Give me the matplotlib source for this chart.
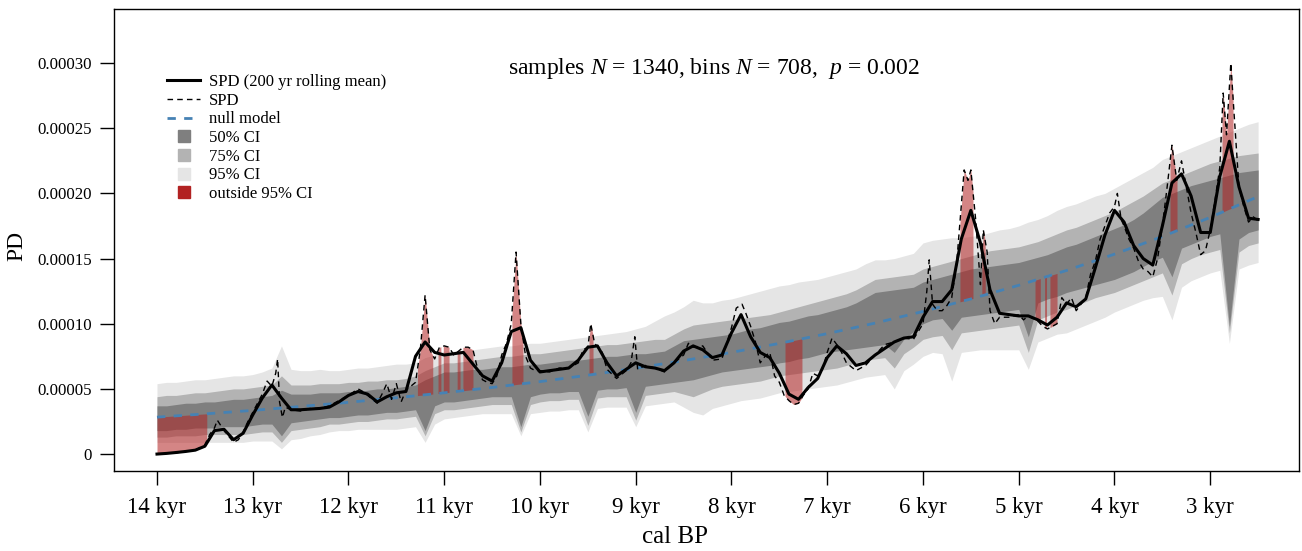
import numpy as np
import matplotlib
matplotlib.use("Agg")
import matplotlib.pyplot as plt
from matplotlib.lines import Line2D

plt.rcParams['font.family'] = ['Liberation Serif', 'DejaVu Serif']
plt.rcParams['mathtext.fontset'] = 'custom'
plt.rcParams['mathtext.rm'] = 'Liberation Serif'
plt.rcParams['mathtext.it'] = 'Liberation Serif:italic'

# all PD values below are in units of 1e-5
scale = 1e-5

# 100 yr grid, 14000 -> 2500 cal BP
grid_years = list(range(14000, 2400, -100))

# 200 yr rolling mean of the SPD
spd_mean = [
    0.0, 0.05, 0.12, 0.2, 0.3, 0.6, 1.8, 1.9, 1.1, 1.6,
    3.0, 4.3, 5.3, 4.3, 3.4, 3.4, 3.45, 3.5, 3.6, 4.0,
    4.5, 4.8, 4.6, 4.0, 4.4, 4.7, 4.8, 7.5, 8.6, 7.8,
    7.6, 7.7, 7.8, 6.9, 6.0, 5.6, 7.0, 9.4, 9.7, 7.2,
    6.3, 6.4, 6.5, 6.6, 7.2, 8.2, 8.3, 7.0, 6.0, 6.5,
    7.0, 6.7, 6.6, 6.4, 7.0, 7.9, 8.3, 8.0, 7.4, 7.6,
    9.3, 10.7, 9.0, 7.8, 7.4, 6.2, 4.6, 4.2, 5.1, 5.8,
    7.4, 8.3, 7.7, 6.8, 7.0, 7.6, 8.1, 8.6, 8.9, 9.0,
    10.5, 11.7, 11.7, 12.6, 16.5, 18.7, 16.2, 12.6, 10.8, 10.7,
    10.6, 10.6, 10.3, 9.9, 10.5, 11.6, 11.3, 11.9, 14.3, 16.8,
    18.7, 17.8, 16.0, 15.0, 14.5, 17.5, 20.8, 21.5, 19.8, 17.0,
    17.0, 21.3, 24.0, 20.5, 18.1, 18.0,
]

# CI envelopes of the null model
ci95_hi = [
    5.4, 5.5, 5.5, 5.6, 5.7, 5.7, 5.8, 5.9, 6.0, 6.0,
    6.1, 6.3, 6.6, 8.3, 6.5, 6.4, 6.4, 6.5, 6.4, 6.4,
    6.5, 6.6, 6.6, 6.7, 6.8, 6.9, 6.9, 7.0, 7.4, 7.6,
    7.9, 7.9, 8.0, 8.0, 8.1, 8.2, 8.3, 8.3, 8.4, 8.5,
    8.5, 8.6, 8.7, 8.8, 8.9, 9.0, 9.1, 9.2, 9.3, 9.4,
    9.6, 9.8, 10.2, 10.6, 10.9, 11.3, 11.8, 11.6, 11.6, 11.8,
    11.9, 12.1, 12.3, 12.5, 12.7, 12.9, 13.0, 13.2, 13.3, 13.4,
    13.6, 13.8, 14.0, 14.2, 14.6, 14.9, 14.9, 15.0, 15.2, 15.4,
    16.2, 16.4, 16.5, 16.6, 16.6, 16.7, 16.8, 17.0, 17.2, 17.3,
    17.5, 17.8, 18.0, 18.3, 18.7, 19.0, 19.2, 19.5, 19.8, 20.0,
    20.4, 20.8, 21.2, 21.6, 22.0, 22.6, 22.9, 23.2, 23.5, 23.8,
    24.1, 24.4, 24.7, 25.0, 25.3, 25.5,
]
ci75_hi = [
    4.4, 4.5, 4.5, 4.6, 4.7, 4.7, 4.8, 4.9, 5.0, 5.0,
    5.1, 5.2, 5.3, 6.0, 5.3, 5.3, 5.3, 5.4, 5.4, 5.4,
    5.5, 5.5, 5.6, 5.6, 5.7, 5.7, 5.8, 6.0, 6.4, 6.7,
    7.0, 7.0, 7.1, 7.2, 7.3, 7.4, 7.5, 7.5, 7.6, 7.7,
    7.7, 7.8, 7.9, 8.0, 8.1, 8.2, 8.3, 8.4, 8.4, 8.5,
    8.6, 8.7, 8.8, 8.8, 9.2, 9.6, 9.9, 10.0, 10.1, 10.2,
    10.3, 10.4, 10.5, 10.6, 10.7, 10.9, 11.1, 11.3, 11.5, 11.7,
    11.9, 12.1, 12.3, 12.6, 13.0, 13.4, 13.5, 13.6, 13.7, 13.8,
    14.2, 14.4, 14.6, 14.8, 15.0, 15.2, 15.4, 15.6, 15.7, 15.8,
    15.9, 16.1, 16.3, 16.6, 16.9, 17.2, 17.4, 17.7, 18.0, 18.3,
    18.6, 19.0, 19.4, 19.8, 20.3, 20.8, 21.1, 21.4, 21.7, 22.0,
    22.3, 22.5, 22.7, 22.9, 23.0, 23.1,
]
ci50_hi = [
    3.7, 3.7, 3.8, 3.9, 3.9, 4.0, 4.0, 4.1, 4.2, 4.2,
    4.3, 4.4, 4.5, 4.9, 4.6, 4.6, 4.6, 4.7, 4.7, 4.7,
    4.8, 4.8, 4.9, 5.0, 5.0, 5.1, 5.2, 5.3, 5.7, 6.0,
    6.3, 6.3, 6.4, 6.5, 6.5, 6.6, 6.7, 6.7, 6.8, 6.9,
    6.9, 7.0, 7.1, 7.2, 7.2, 7.3, 7.4, 7.5, 7.5, 7.6,
    7.7, 7.7, 7.8, 7.9, 8.3, 8.7, 8.8, 8.9, 9.0, 9.1,
    9.2, 9.4, 9.6, 9.7, 9.9, 10.1, 10.2, 10.4, 10.6, 10.7,
    10.9, 11.1, 11.3, 11.6, 12.0, 12.4, 12.5, 12.6, 12.7, 12.8,
    13.2, 13.4, 13.6, 13.8, 14.0, 14.2, 14.3, 14.4, 14.5, 14.6,
    14.7, 14.9, 15.1, 15.3, 15.6, 15.9, 16.1, 16.4, 16.7, 17.0,
    17.3, 17.6, 18.0, 18.5, 19.1, 19.7, 20.0, 20.3, 20.6, 20.8,
    21.0, 21.2, 21.4, 21.6, 21.7, 21.8,
]
ci50_lo = [
    1.8, 1.8, 1.9, 1.9, 2.0, 2.0, 2.0, 2.1, 2.1, 2.1,
    2.2, 2.3, 2.3, 1.4, 2.4, 2.5, 2.6, 2.7, 2.8, 2.8,
    2.9, 3.0, 3.0, 3.1, 3.2, 3.2, 3.3, 3.4, 1.8, 3.7,
    4.0, 4.0, 4.1, 4.2, 4.3, 4.4, 4.4, 4.4, 2.1, 4.4,
    4.6, 4.7, 4.7, 4.8, 4.8, 2.9, 4.9, 5.0, 5.0, 5.1,
    3.2, 5.2, 5.3, 5.4, 5.5, 5.6, 5.7, 5.9, 6.1, 6.3,
    6.4, 6.5, 6.6, 6.7, 6.8, 7.0, 7.1, 7.3, 7.4, 7.6,
    7.8, 7.9, 8.0, 8.1, 8.2, 8.3, 8.4, 7.8, 8.8, 9.4,
    10.0, 10.3, 10.4, 9.5, 10.5, 10.6, 10.7, 10.8, 10.9, 11.0,
    11.1, 9.0, 11.6, 11.9, 12.1, 12.4, 12.6, 12.8, 13.0, 13.2,
    13.4, 13.7, 14.0, 14.4, 14.8, 15.1, 13.6, 15.8, 16.1, 16.4,
    16.7, 16.9, 9.8, 16.5, 17.0, 17.2,
]
ci75_lo = [
    1.3, 1.3, 1.4, 1.4, 1.4, 1.5, 1.5, 1.5, 1.5, 1.5,
    1.6, 1.7, 1.7, 0.9, 1.8, 1.9, 2.0, 2.1, 2.3, 2.3,
    2.4, 2.5, 2.5, 2.6, 2.7, 2.7, 2.8, 2.9, 1.4, 3.1,
    3.4, 3.4, 3.5, 3.6, 3.7, 3.8, 3.8, 3.8, 1.7, 3.8,
    4.0, 4.1, 4.1, 4.2, 4.2, 2.2, 4.3, 4.4, 4.4, 4.4,
    2.6, 4.5, 4.6, 4.7, 4.8, 4.6, 4.4, 4.7, 5.0, 5.2,
    5.3, 5.4, 5.5, 5.6, 5.8, 6.0, 6.1, 6.2, 6.3, 6.4,
    6.5, 6.6, 6.8, 7.0, 7.2, 7.3, 7.4, 6.6, 7.7, 8.2,
    8.8, 9.0, 9.1, 8.0, 9.3, 9.4, 9.5, 9.6, 9.7, 9.8,
    9.9, 7.8, 10.3, 10.6, 10.9, 11.1, 11.4, 11.7, 12.0, 12.2,
    12.4, 12.7, 13.0, 13.3, 13.6, 13.9, 12.2, 14.6, 15.0, 15.3,
    15.5, 15.7, 9.3, 15.5, 16.0, 16.2,
]
ci95_lo = [
    0.9, 0.9, 0.9, 0.9, 0.9, 0.9, 0.9, 0.9, 0.9, 0.9,
    1.0, 1.0, 1.0, 0.4, 1.1, 1.2, 1.4, 1.5, 1.7, 1.8,
    1.8, 1.9, 1.9, 1.9, 1.9, 1.9, 2.0, 2.1, 0.9, 2.3,
    2.7, 2.8, 2.9, 3.0, 3.1, 3.1, 3.1, 3.1, 1.4, 3.1,
    3.2, 3.3, 3.3, 3.4, 3.4, 1.7, 3.5, 3.6, 3.6, 3.6,
    2.1, 3.7, 3.8, 3.9, 4.0, 3.6, 3.2, 3.0, 3.5, 3.7,
    3.9, 4.1, 4.2, 4.3, 4.5, 4.7, 4.8, 4.9, 5.0, 5.1,
    5.2, 5.3, 5.5, 5.7, 5.9, 6.0, 6.1, 5.0, 6.4, 6.9,
    7.5, 7.8, 7.7, 5.6, 7.8, 7.9, 8.0, 8.0, 8.0, 8.0,
    8.0, 6.5, 8.6, 8.9, 9.2, 9.3, 9.6, 9.9, 10.2, 10.5,
    10.9, 11.2, 11.5, 11.8, 12.0, 12.1, 10.3, 12.8, 13.3, 13.6,
    13.9, 14.1, 8.5, 14.2, 14.5, 14.7,
]

# null model (fitted exponential), read every 500 yr
null_years = list(range(14000, 2400, -500))
null_vals = [2.83, 3.08, 3.35, 3.65, 3.97, 4.32, 4.70, 5.11, 5.56, 6.05,
             6.59, 7.17, 7.80, 8.49, 9.24, 10.05, 10.94, 11.90, 12.95,
             14.09, 15.34, 16.69, 18.16, 19.76]

# raw SPD (irregular spacing to catch the spikes)
spd_years = [
    14000, 13800, 13600, 13500, 13450, 13400, 13370, 13300, 13200, 13150,
    13100, 13050, 13000, 12950, 12900, 12850, 12800, 12760, 12740, 12720,
    12690, 12660, 12600, 12500, 12400, 12300, 12200, 12100, 12000, 11900,
    11850, 11750, 11700, 11650, 11600, 11550, 11500, 11450, 11400, 11300,
    11250, 11200, 11150, 11100, 11050, 11000, 10950, 10900, 10850, 10800,
    10750, 10700, 10650, 10600, 10550, 10500, 10450, 10400, 10350, 10300,
    10250, 10200, 10150, 10100, 10050, 10000, 9900, 9800, 9700, 9600,
    9550, 9500, 9470, 9430, 9350, 9300, 9200, 9100, 9050, 9010,
    8980, 8900, 8800, 8700, 8600, 8500, 8450, 8400, 8300, 8200,
    8100, 8050, 8000, 7950, 7890, 7850, 7800, 7750, 7700, 7650,
    7600, 7550, 7500, 7450, 7400, 7350, 7300, 7250, 7200, 7150,
    7100, 7050, 7000, 6950, 6900, 6850, 6800, 6700, 6600, 6500,
    6400, 6300, 6200, 6100, 6000, 5960, 5935, 5900, 5850, 5800,
    5750, 5700, 5650, 5600, 5570, 5530, 5500, 5450, 5400, 5370,
    5330, 5300, 5250, 5200, 5100, 5000, 4950, 4900, 4800, 4750,
    4700, 4650, 4600, 4550, 4500, 4450, 4400, 4300, 4250, 4200,
    4150, 4100, 4050, 4000, 3970, 3930, 3900, 3850, 3800, 3750,
    3700, 3650, 3600, 3550, 3500, 3450, 3400, 3350, 3300, 3250,
    3200, 3150, 3100, 3050, 3000, 2950, 2900, 2865, 2830, 2785,
    2750, 2700, 2650, 2600, 2550, 2500,
]
spd_vals = [
    0.0, 0.1, 0.3, 0.7, 1.5, 2.0, 2.6, 1.8, 0.9, 1.1,
    1.7, 2.5, 3.2, 3.9, 4.6, 5.6, 5.2, 6.2, 7.3, 4.0,
    2.8, 3.6, 3.4, 3.3, 3.5, 3.5, 3.7, 4.1, 4.5, 5.0,
    4.8, 4.2, 3.9, 4.6, 5.4, 4.2, 5.4, 4.0, 4.9, 5.5,
    8.0, 12.2, 8.0, 7.3, 8.2, 8.3, 8.2, 7.6, 7.9, 8.2,
    8.2, 8.0, 6.5, 5.7, 5.5, 5.4, 6.0, 7.6, 8.5, 10.0,
    15.5, 10.0, 7.5, 6.6, 6.4, 6.4, 6.3, 6.6, 6.6, 7.0,
    8.0, 8.2, 10.0, 8.5, 7.8, 6.5, 5.8, 6.4, 7.0, 9.0,
    6.5, 6.8, 6.6, 6.3, 7.0, 7.6, 8.5, 8.2, 8.3, 7.2,
    7.3, 8.5, 9.7, 11.2, 11.5, 10.8, 9.8, 8.6, 7.0, 7.5,
    7.8, 6.0, 5.5, 4.5, 4.1, 3.8, 3.9, 4.5, 5.0, 6.2,
    6.0, 6.5, 7.8, 8.9, 8.4, 7.8, 7.0, 6.4, 6.8, 7.6,
    8.4, 8.6, 8.9, 8.8, 10.0, 12.5, 14.9, 11.5, 11.0, 11.0,
    11.4, 12.0, 14.5, 19.0, 21.8, 21.0, 21.8, 18.0, 13.0, 17.2,
    15.5, 11.0, 10.0, 10.5, 10.5, 10.7, 10.3, 10.6, 10.2, 9.8,
    9.6, 9.8, 10.0, 12.0, 11.5, 12.0, 11.0, 12.0, 13.8, 14.8,
    16.5, 17.5, 18.5, 19.0, 20.0, 18.0, 17.5, 16.5, 15.8, 14.8,
    14.2, 14.0, 13.6, 15.0, 17.5, 20.5, 23.7, 21.0, 22.5, 20.5,
    18.5, 17.0, 15.3, 15.6, 17.2, 19.5, 22.0, 27.7, 24.5, 30.0,
    26.0, 20.5, 19.0, 17.8, 18.2, 17.9,
]

# periods where the SPD leaves the 95% envelope (start, end in cal BP)
outside_spans = [
    (14000, 13480), (11280, 11120), (11065, 11035), (11010, 10950),
    (10865, 10835), (10805, 10700), (10293, 10178), (9488, 9446),
    (7441, 7264), (5614, 5478), (5385, 5350), (4830, 4775),
    (4730, 4710), (4674, 4600), (3420, 3347), (2877, 2762),
]

title_txt = r"samples $N$ = 1340, bins $N$ = 708,  $p$ = 0.002"
xtick_years = list(range(14000, 2900, -1000))
xtick_labels = [f"{y // 1000} kyr" for y in xtick_years]
ytick_vals = [0, 5, 10, 15, 20, 25, 30]
ytick_labels = ["0", "0.00005", "0.00010", "0.00015", "0.00020", "0.00025", "0.00030"]

col50, col75, col95 = "#7f7f7f", "#b3b3b3", "#e5e5e5"
red = "#b22222"
blue = "#4682b4"

g = np.array(grid_years)
s = lambda v: np.array(v) * scale

fig = plt.figure(figsize=(13.02, 5.51), dpi=100)
ax = fig.add_axes([114 / 1302, 80 / 551, 1185 / 1302, 462 / 551])

ax.fill_between(g, s(ci95_lo), s(ci95_hi), color=col95, lw=0)
ax.fill_between(g, s(ci75_lo), s(ci75_hi), color=col75, lw=0)
ax.fill_between(g, s(ci50_lo), s(ci50_hi), color=col50, lw=0)

sy = np.array(spd_years)
sv = np.array(spd_vals)
ny = np.array(null_years)
nv = np.array(null_vals)
for a, b in outside_spans:
    pts = np.array([a] + [y for y in spd_years if b < y < a] + [b])
    top = np.interp(-pts, -sy, sv)
    base = np.interp(-pts, -ny, nv)
    ax.fill_between(pts, s(top), s(base), color=red, alpha=0.55, lw=0)

ax.plot(ny, s(nv), color=blue, lw=2.0, dashes=(3, 3))
ax.plot(sy, s(sv), color="black", lw=1.0, dashes=(4, 3))
ax.plot(g, s(spd_mean), color="black", lw=2.2, solid_joinstyle="round")

ax.set_xlim(14449, 2073)
ax.set_ylim(-1.30 * scale, 34.15 * scale)
ax.set_xticks(xtick_years, xtick_labels, fontsize=16.5)
ax.set_yticks(np.array(ytick_vals) * scale, ytick_labels, fontsize=12.2)
ax.tick_params(length=10, width=1, pad=6)
ax.tick_params(axis="x", pad=9)
for sp in ax.spines.values():
    sp.set_linewidth(1)

ax.set_xlabel("cal BP", fontsize=18)
ax.xaxis.set_label_coords(0.473, -0.118)
ax.set_ylabel("PD", fontsize=17)
ax.yaxis.set_label_coords(-0.073, 0.487)
ax.text(0.506, 0.872, title_txt, transform=ax.transAxes, ha="center",
        va="center", fontsize=17)

handles = [
    Line2D([], [], color="black", lw=2.2),
    Line2D([], [], color="black", lw=1.0, dashes=(4, 3)),
    Line2D([], [], color=blue, lw=2.0, dashes=(3, 3)),
    Line2D([], [], marker="s", ls="none", color=col50, markersize=8.5),
    Line2D([], [], marker="s", ls="none", color=col75, markersize=8.5),
    Line2D([], [], marker="s", ls="none", color=col95, markersize=8.5),
    Line2D([], [], marker="s", ls="none", color=red, markersize=8.5),
]
labels = ["SPD (200 yr rolling mean)", "SPD", "null model", "50% CI",
          "75% CI", "95% CI", "outside 95% CI"]
ax.legend(handles, labels, loc="upper left", bbox_to_anchor=(0.0447, 0.859),
          frameon=False, fontsize=12, borderpad=0, borderaxespad=0,
          handlelength=2.0, handletextpad=0.5, labelspacing=0.16)

fig.savefig("out.png", dpi=100)
